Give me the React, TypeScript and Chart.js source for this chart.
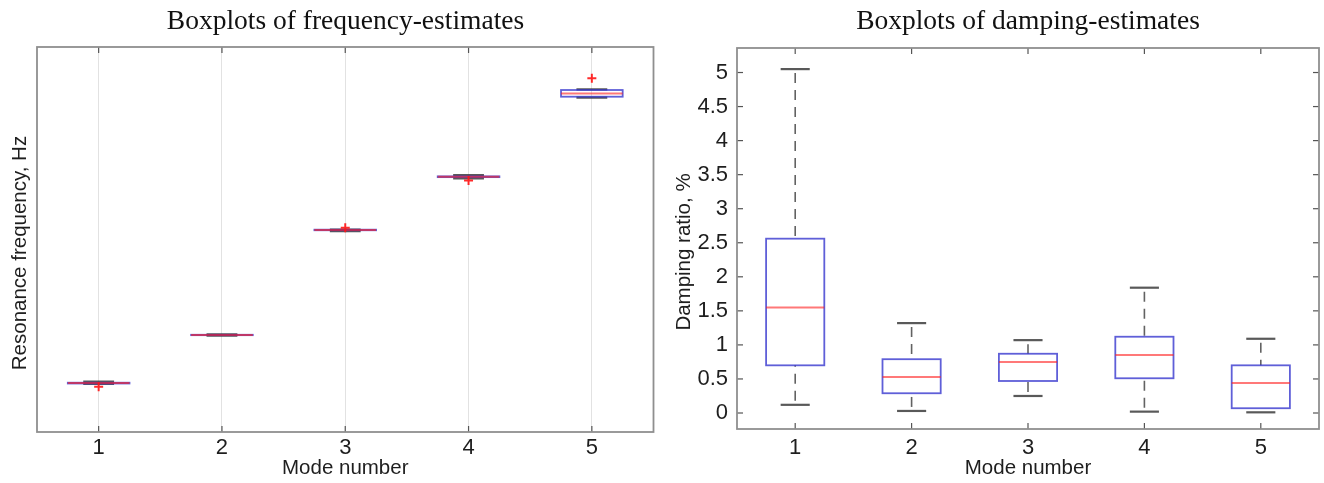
import React, { useEffect, useRef } from 'react';
import { Chart, registerables } from 'chart.js';

Chart.register(...registerables);

// ---------- data ----------
const modes = [1, 2, 3, 4, 5];
const modeTickLabels = ['1', '2', '3', '4', '5'];

// Resonance frequency (the reference shows no y tick values; relative units)
const freqWhiskerLow = [12.5, 25.05, 52.15, 65.9, 86.83];
const freqQ1 = [12.6, 25.15, 52.4, 66.2, 87.09];
const freqMedian = [12.7, 25.2, 52.47, 66.3, 87.92];
const freqQ3 = [12.8, 25.25, 52.55, 66.4, 88.83];
const freqWhiskerHigh = [13.1, 25.35, 52.6, 66.7, 89.01];
const freqOutlierMode = [1, 3, 4, 5];
const freqOutlierValue = [11.75, 53.05, 65.3, 91.87];

// Damping ratio, %
const dampWhiskerLow = [0.12, 0.03, 0.25, 0.02, 0.01];
const dampQ1 = [0.7, 0.29, 0.47, 0.51, 0.07];
const dampMedian = [1.55, 0.53, 0.75, 0.85, 0.44];
const dampQ3 = [2.56, 0.79, 0.87, 1.12, 0.7];
const dampWhiskerHigh = [5.05, 1.32, 1.07, 1.84, 1.09];
const dampTicks = [0, 0.5, 1, 1.5, 2, 2.5, 3, 3.5, 4, 4.5, 5];
const dampTickLabels = ['0', '0.5', '1', '1.5', '2', '2.5', '3', '3.5', '4', '4.5', '5'];

const freqTitle = 'Boxplots of frequency-estimates';
const dampTitle = 'Boxplots of damping-estimates';
const freqYTitle = 'Resonance frequency, Hz';
const dampYTitle = 'Damping ratio, %';
const xTitle = 'Mode number';

// ---------- plugin drawing boxes through the chart scales ----------
function line(ctx: CanvasRenderingContext2D, x1: number, y1: number, x2: number, y2: number) {
  ctx.beginPath();
  ctx.moveTo(x1, y1);
  ctx.lineTo(x2, y2);
  ctx.stroke();
}

const boxplotPlugin = {
  id: 'boxplot',
  beforeDatasetsDraw(chart: any, _args: any, opts: any) {
    const { ctx, chartArea } = chart;
    const xs = chart.scales.x;
    const ys = chart.scales.y;
    ctx.save();
    ctx.beginPath();
    ctx.rect(chartArea.left, chartArea.top, chartArea.right - chartArea.left, chartArea.bottom - chartArea.top);
    ctx.clip();
    for (let i = 0; i < opts.positions.length; i++) {
      const p = opts.positions[i];
      const xc = xs.getPixelForValue(p);
      const xl = xs.getPixelForValue(p - 0.25);
      const xr = xs.getPixelForValue(p + 0.25);
      const cl = xs.getPixelForValue(p - 0.125);
      const cr = xs.getPixelForValue(p + 0.125);
      const yLow = ys.getPixelForValue(opts.low[i]);
      const yQ1 = ys.getPixelForValue(opts.q1[i]);
      const yMed = ys.getPixelForValue(opts.median[i]);
      const yQ3 = ys.getPixelForValue(opts.q3[i]);
      const yHigh = ys.getPixelForValue(opts.high[i]);
      // whiskers
      ctx.strokeStyle = 'rgba(70,70,70,0.85)';
      ctx.lineWidth = 1.6;
      ctx.setLineDash([10, 7]);
      ctx.lineDashOffset = -4;
      line(ctx, xc, yHigh, xc, yQ3);
      line(ctx, xc, yLow, xc, yQ1);
      ctx.setLineDash([]);
      // caps
      ctx.strokeStyle = 'rgba(60,60,60,0.85)';
      ctx.lineWidth = 2.2;
      line(ctx, cl, yHigh, cr, yHigh);
      line(ctx, cl, yLow, cr, yLow);
      // box
      ctx.strokeStyle = 'rgba(50,50,205,0.78)';
      ctx.lineWidth = 1.8;
      ctx.strokeRect(xl, yQ3, xr - xl, yQ1 - yQ3);
      // median
      ctx.strokeStyle = 'rgba(255,30,30,0.6)';
      ctx.lineWidth = 2;
      line(ctx, xl, yMed, xr, yMed);
    }
    ctx.restore();
  },
  afterDraw(chart: any, _args: any, opts: any) {
    const { ctx, chartArea } = chart;
    const { left, right, top, bottom } = chartArea;
    const xs = chart.scales.x;
    const ys = chart.scales.y;
    ctx.save();
    ctx.strokeStyle = '#555';
    ctx.lineWidth = 1.2;
    for (const v of opts.positions) {
      const x = xs.getPixelForValue(v);
      line(ctx, x, bottom, x, bottom - 6);
      line(ctx, x, top, x, top + 6);
    }
    for (const v of opts.yTicks) {
      const y = ys.getPixelForValue(v);
      line(ctx, left, y, left + 6, y);
      line(ctx, right, y, right - 6, y);
    }
    ctx.strokeStyle = '#8f8f8f';
    ctx.lineWidth = 1.8;
    ctx.strokeRect(left, top, right - left, bottom - top);
    ctx.restore();
  },
};

const tickFont = { family: '"Liberation Sans", Arial, sans-serif', size: 22 };
const titleFont = { family: '"Liberation Sans", Arial, sans-serif', size: 20.5 };

function makeConfig(kind: 'freq' | 'damp'): any {
  const isFreq = kind === 'freq';
  const outliers = isFreq
    ? freqOutlierMode.map((m, i) => ({ x: m, y: freqOutlierValue[i] }))
    : [];
  return {
    type: 'scatter',
    data: {
      datasets: [
        {
          label: 'Outliers',
          data: outliers,
          pointStyle: 'cross',
          pointRadius: 4.5,
          pointBorderWidth: 2,
          borderColor: 'rgba(255,20,20,0.9)',
          backgroundColor: 'rgba(255,20,20,0.9)',
          showLine: false,
        },
      ],
    },
    plugins: [boxplotPlugin],
    options: {
      responsive: false,
      animation: false,
      events: [],
      layout: { padding: { top: isFreq ? 47 : 48, right: isFreq ? 6 : 5, left: 0, bottom: 0 } },
      plugins: {
        legend: { display: false },
        tooltip: { enabled: false },
        title: { display: false },
        boxplot: isFreq
          ? {
              positions: modes,
              low: freqWhiskerLow,
              q1: freqQ1,
              median: freqMedian,
              q3: freqQ3,
              high: freqWhiskerHigh,
              yTicks: [],
            }
          : {
              positions: modes,
              low: dampWhiskerLow,
              q1: dampQ1,
              median: dampMedian,
              q3: dampQ3,
              high: dampWhiskerHigh,
              yTicks: dampTicks,
            },
      },
      scales: {
        x: {
          type: 'linear',
          min: 0.5,
          max: 5.5,
          afterBuildTicks: (scale: any) => {
            scale.ticks = modes.map((v) => ({ value: v }));
          },
          afterFit: (scale: any) => {
            scale.height = isFreq ? 51 : 54;
          },
          ticks: {
            font: tickFont,
            color: '#1e1e1e',
            padding: isFreq ? 3 : 6,
            maxRotation: 0,
            autoSkip: false,
            callback: (_v: any, i: number) => modeTickLabels[i],
          },
          grid: { display: isFreq, color: '#e2e2e2', lineWidth: 1, drawTicks: false },
          border: { display: false },
          title: {
            display: true,
            text: xTitle,
            font: titleFont,
            color: '#1e1e1e',
            padding: { top: 0, bottom: 2 },
          },
        },
        y: {
          type: 'linear',
          min: isFreq ? 0 : -0.235,
          max: isFreq ? 100 : 5.36,
          afterBuildTicks: (scale: any) => {
            scale.ticks = (isFreq ? [] : dampTicks).map((v) => ({ value: v }));
          },
          afterFit: (scale: any) => {
            scale.width = isFreq ? 37 : 77;
          },
          ticks: {
            display: !isFreq,
            font: tickFont,
            color: '#1e1e1e',
            padding: 9,
            autoSkip: false,
            callback: (_v: any, i: number) => dampTickLabels[i],
          },
          grid: { display: false, drawTicks: false },
          border: { display: false },
          title: { display: false },
        },
      },
    },
  };
}

function BoxChart({ kind, left, width }: { kind: 'freq' | 'damp'; left: number; width: number }) {
  const ref = useRef<HTMLCanvasElement>(null);
  useEffect(() => {
    if (!ref.current) return;
    const chart = new Chart(ref.current, makeConfig(kind));
    return () => chart.destroy();
  }, [kind]);
  return (
    <canvas
      ref={ref}
      width={width}
      height={483}
      style={{ position: 'absolute', left, top: 0, width, height: 483 }}
    />
  );
}

const titleStyle: React.CSSProperties = {
  position: 'absolute',
  top: 4,
  fontFamily: '"Liberation Serif", "Times New Roman", serif',
  fontSize: 27.5,
  lineHeight: '32px',
  textAlign: 'center',
  color: '#111',
  whiteSpace: 'nowrap',
};

function YTitle({ text, cx, cy }: { text: string; cx: number; cy: number }) {
  const w = 320;
  const h = 24;
  return (
    <div
      style={{
        position: 'absolute',
        left: cx - w / 2,
        top: cy - h / 2,
        width: w,
        height: h,
        lineHeight: `${h}px`,
        textAlign: 'center',
        fontFamily: '"Liberation Sans", Arial, sans-serif',
        fontSize: 20.5,
        color: '#1e1e1e',
        whiteSpace: 'nowrap',
        transform: 'rotate(-90deg)',
      }}
    >
      {text}
    </div>
  );
}

export default function App() {
  return (
    <div
      style={{
        position: 'absolute',
        left: 0,
        top: 0,
        width: 1324,
        height: 483,
        background: '#fff',
        overflow: 'hidden',
      }}
    >
      <BoxChart kind="freq" left={0} width={660} />
      <BoxChart kind="damp" left={660} width={664} />
      <div style={{ ...titleStyle, left: 37, width: 617 }}>{freqTitle}</div>
      <div style={{ ...titleStyle, left: 737, width: 582 }}>{dampTitle}</div>
      <YTitle text={freqYTitle} cx={18.5} cy={253} />
      <YTitle text={dampYTitle} cx={683} cy={252} />
    </div>
  );
}
